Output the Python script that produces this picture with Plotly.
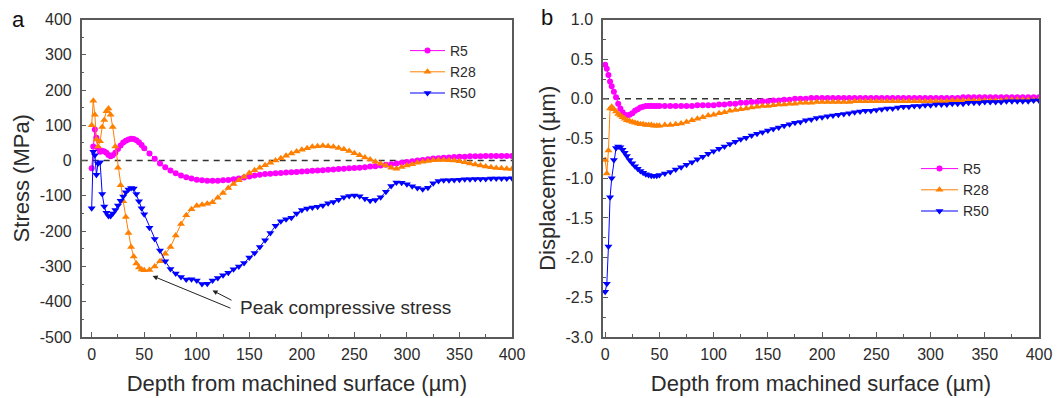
import plotly.graph_objects as go

# Depth grid (µm): fine spacing near the surface, 5 µm steps deeper in
depth = ([0, 1.5, 3, 4.5, 6, 8, 10, 12, 14, 16, 18, 20, 22.5, 25, 27.5, 30,
          32.5, 35, 37.5, 40, 42.5, 45, 47.5, 50]
         + list(range(55, 401, 5)))

# Residual stress (MPa)
stress_r5 = [-22, 40, 88, 65, 35, 25, 28, 26, 22, 16, 12, 15, 22, 33, 43, 51,
             56, 60, 62, 61, 58, 52, 44, 35,
             20, 5, -8, -19, -28, -36, -42, -47, -51, -54,
             -56, -57, -57, -57, -56, -55, -53, -51, -48, -45,
             -42, -40, -38, -37, -36, -35, -34, -33, -32, -31,
             -30, -29, -28, -27, -26, -25, -24, -23, -22, -21,
             -20, -19, -17, -16, -14, -12, -10, -8, -6, -4,
             -2, 0, 2, 4, 6, 7, 8, 9, 10, 11,
             11, 12, 12, 12, 13, 13, 13, 13, 13, 13]
stress_r28 = [100, 170, 130, 60, 40, 55, 95, 115, 140, 148, 130, 95, 40, -20,
              -70, -115, -160, -205, -245, -272, -292, -303, -309, -311,
              -310, -300, -285, -264, -245, -212, -180, -155, -138, -128,
              -125, -122, -118, -105, -92, -78, -66, -56, -46, -35,
              -27, -20, -13, -6, 0, 7, 14, 20, 26, 31,
              35, 39, 41, 42, 41, 39, 36, 32, 27, 21,
              15, 9, 3, -3, -9, -14, -20, -23, -18, -14,
              -10, -6, -3, -1, 1, 2, 2, 1, 0, -2,
              -5, -8, -11, -14, -17, -19, -21, -22, -23, -24]
stress_r50 = [-135, 25, 15, -40, -8, -5, -95, -130, -148, -157, -157, -150,
              -140, -127, -114, -102, -90, -82, -78, -79, -95, -115, -135, -152,
              -190, -222, -255, -285, -307, -320, -330, -337, -336, -340,
              -350, -349, -340, -333, -325, -318, -308, -300, -290, -275,
              -262, -245, -226, -205, -185, -172, -166, -162, -150, -140,
              -136, -133, -131, -127, -121, -117, -111, -104, -100, -99,
              -101, -108, -114, -112, -104, -88, -72, -62, -63, -67,
              -73, -78, -81, -77, -64, -58, -56, -56, -55, -54,
              -53, -53, -52, -52, -52, -51, -51, -51, -51, -50]

# Displacement (µm)
disp_r5 = [0.43, 0.38, 0.30, 0.22, 0.16, 0.09, 0.02, -0.06, -0.12, -0.17,
           -0.20, -0.21, -0.20, -0.18, -0.15, -0.13, -0.11, -0.10, -0.09,
           -0.09, -0.09, -0.09, -0.09, -0.09,
           -0.09, -0.09, -0.09, -0.09, -0.09, -0.09, -0.08, -0.08, -0.08, -0.08,
           -0.07, -0.07, -0.06, -0.06, -0.05, -0.05, -0.04, -0.04, -0.03, -0.03,
           -0.02, -0.02, -0.01, -0.01, 0.00, 0.00, 0.00, 0.01, 0.01, 0.01,
           0.01, 0.01, 0.01, 0.01, 0.01, 0.01, 0.01, 0.01, 0.01, 0.01,
           0.01, 0.01, 0.01, 0.01, 0.01, 0.01, 0.01, 0.01, 0.01, 0.01,
           0.01, 0.01, 0.01, 0.01, 0.01, 0.02, 0.02, 0.02, 0.02, 0.02,
           0.02, 0.02, 0.02, 0.02, 0.02, 0.02, 0.02, 0.02, 0.02, 0.02]
disp_r28 = [-0.77, -0.94, -0.65, -0.12, -0.10, -0.13, -0.16, -0.19, -0.21,
            -0.23, -0.25, -0.27, -0.28, -0.29, -0.30, -0.31, -0.32, -0.32,
            -0.33, -0.33, -0.33, -0.34, -0.34, -0.34,
            -0.33, -0.33, -0.32, -0.31, -0.29, -0.27, -0.25, -0.23, -0.21, -0.20,
            -0.18, -0.17, -0.15, -0.14, -0.13, -0.12, -0.11, -0.10, -0.09, -0.09,
            -0.08, -0.07, -0.07, -0.06, -0.06, -0.05, -0.05, -0.05, -0.04, -0.04,
            -0.04, -0.04, -0.04, -0.04, -0.04, -0.03, -0.03, -0.03, -0.03, -0.03,
            -0.03, -0.03, -0.03, -0.03, -0.03, -0.03, -0.03, -0.03, -0.03, -0.03,
            -0.03, -0.03, -0.03, -0.02, -0.02, -0.02, -0.02, -0.02, -0.02, -0.02,
            -0.02, -0.02, -0.02, -0.01, -0.01, -0.01, -0.01, -0.01, -0.01, -0.01]
disp_r50 = [-2.43, -2.33, -1.86, -1.24, -1.00, -0.77, -0.62, -0.60, -0.61,
            -0.64, -0.68, -0.72, -0.77, -0.81, -0.85, -0.88, -0.91, -0.93,
            -0.95, -0.96, -0.97, -0.97, -0.97, -0.96,
            -0.94, -0.92, -0.89, -0.86, -0.83, -0.80, -0.76, -0.73, -0.69, -0.66,
            -0.63, -0.60, -0.57, -0.54, -0.51, -0.49, -0.46, -0.44, -0.42, -0.40,
            -0.38, -0.36, -0.34, -0.32, -0.30, -0.29, -0.27, -0.26, -0.24, -0.23,
            -0.22, -0.21, -0.20, -0.19, -0.18, -0.17, -0.16, -0.15, -0.15, -0.14,
            -0.13, -0.12, -0.12, -0.11, -0.10, -0.10, -0.09, -0.09, -0.08, -0.08,
            -0.07, -0.07, -0.07, -0.06, -0.06, -0.06, -0.05, -0.05, -0.05, -0.04,
            -0.04, -0.04, -0.04, -0.03, -0.03, -0.03, -0.03, -0.03, -0.02, -0.02]

# Tick labels
x_ticks = [0, 50, 100, 150, 200, 250, 300, 350, 400]
stress_ticks = [-500, -400, -300, -200, -100, 0, 100, 200, 300, 400]
disp_ticks = [-3.0, -2.5, -2.0, -1.5, -1.0, -0.5, 0.0, 0.5, 1.0]

FONT = "Liberation Sans, Arial, sans-serif"
TXT = "#2b2b2b"
AX = "#5a5a5a"

series = [
    ("R5", "#ff00ff", "circle", 6),
    ("R28", "#ff7f00", "triangle-up", 7),
    ("R50", "#0000ff", "triangle-down", 7),
]
stress = [stress_r5, stress_r28, stress_r50]
disp = [disp_r5, disp_r28, disp_r50]

fig = go.Figure()
for (name, color, sym, size), ys in zip(series, stress):
    fig.add_trace(go.Scatter(
        x=depth, y=ys, name=name, mode="lines+markers",
        line=dict(color=color, width=1),
        marker=dict(symbol=sym, size=size, color=color),
        xaxis="x", yaxis="y", legend="legend"))
for (name, color, sym, size), ys in zip(series, disp):
    fig.add_trace(go.Scatter(
        x=depth, y=ys, name=name, mode="lines+markers",
        line=dict(color=color, width=1),
        marker=dict(symbol=sym, size=size, color=color),
        xaxis="x2", yaxis="y2", legend="legend2"))


def xaxis(domain, anchor, rng):
    return dict(
        domain=domain, anchor=anchor, range=rng, automargin=False,
        tickmode="array", tickvals=x_ticks, ticktext=[str(v) for v in x_ticks],
        ticks="inside", ticklen=5, tickcolor=AX, tickwidth=1.2,
        minor=dict(ticks="inside", ticklen=3, dtick=25, tick0=0, tickcolor=AX),
        showline=True, linecolor=AX, linewidth=1.5, mirror=True,
        showgrid=False, zeroline=False, ticklabelstandoff=2,
        tickfont=dict(family=FONT, size=16, color=TXT),
        title=dict(text="Depth from machined surface (µm)", standoff=14,
                   font=dict(family=FONT, size=22, color=TXT)))


def yaxis(domain, anchor, rng, vals, texts, title, minor_dtick):
    return dict(
        domain=domain, anchor=anchor, range=rng, automargin=False,
        tickmode="array", tickvals=vals, ticktext=texts,
        ticks="inside", ticklen=5, tickcolor=AX, tickwidth=1.2,
        minor=dict(ticks="inside", ticklen=3, dtick=minor_dtick,
                   tick0=0, tickcolor=AX),
        showline=True, linecolor=AX, linewidth=1.5, mirror=True,
        showgrid=False, zeroline=False, ticklabelstandoff=5,
        tickfont=dict(family=FONT, size=16, color=TXT),
        title=dict(text=title, standoff=4,
                   font=dict(family=FONT, size=22, color=TXT)))


ydom = [0.1533, 0.951]
fig.update_layout(
    width=1057, height=398,
    margin=dict(l=0, r=0, t=0, b=0, autoexpand=False),
    paper_bgcolor="white", plot_bgcolor="white",
    font=dict(family=FONT, color=TXT),
    xaxis=xaxis([0.0773, 0.4844], "y", [-9.5, 400]),
    yaxis=yaxis(ydom, "x", [-500, 400], stress_ticks,
                [str(v) for v in stress_ticks], "Stress (MPa)", 50),
    xaxis2=xaxis([0.5705, 0.9830], "y2", [-2, 400]),
    yaxis2=yaxis(ydom, "x2", [-3.0, 1.0], disp_ticks,
                 [f"{v:.1f}" for v in disp_ticks], "Displacement (µm)", 0.25),
    legend=dict(x=405 / 1057, y=1 - 35 / 398, xanchor="left", yanchor="top",
                bgcolor="rgba(0,0,0,0)", itemwidth=35, tracegroupgap=0,
                font=dict(family=FONT, size=14, color=TXT)),
    legend2=dict(x=916 / 1057, y=1 - 153 / 398, xanchor="left", yanchor="top",
                 bgcolor="rgba(0,0,0,0)", itemwidth=37, tracegroupgap=0,
                 font=dict(family=FONT, size=14, color=TXT)),
    showlegend=True,
)

# Dashed zero reference lines
for xr, yr in (("x", "y"), ("x2", "y2")):
    fig.add_shape(type="line", xref=f"{xr} domain", yref=yr,
                  x0=0, x1=1, y0=0, y1=0,
                  line=dict(color="#333333", width=1.5, dash="6px,5px"),
                  layer="below")

# Peak compressive stress callout
fig.add_annotation(x=58, y=-327, ax=133.5, ay=-420, xref="x", yref="y",
                   axref="x", ayref="y", text="", showarrow=True,
                   arrowhead=2, arrowsize=1, arrowwidth=1, arrowcolor="#222")
fig.add_annotation(x=115, y=-368, ax=134.5, ay=-398, xref="x", yref="y",
                   axref="x", ayref="y", text="", showarrow=True,
                   arrowhead=2, arrowsize=1, arrowwidth=1, arrowcolor="#222")
fig.add_annotation(x=139.5, y=-415, xref="x", yref="y", xanchor="left",
                   text="Peak compressive stress", showarrow=False,
                   font=dict(family=FONT, size=19, color=TXT))

# Panel letters
fig.add_annotation(x=18 / 1057, y=1 - 19 / 398, xref="paper", yref="paper",
                   xanchor="center", yanchor="middle",
                   text="a", showarrow=False,
                   font=dict(family=FONT, size=22, color="#111"))
fig.add_annotation(x=547 / 1057, y=1 - 18 / 398, xref="paper", yref="paper",
                   xanchor="center", yanchor="middle",
                   text="b", showarrow=False,
                   font=dict(family=FONT, size=22, color="#111"))

fig.write_html("out.html")
